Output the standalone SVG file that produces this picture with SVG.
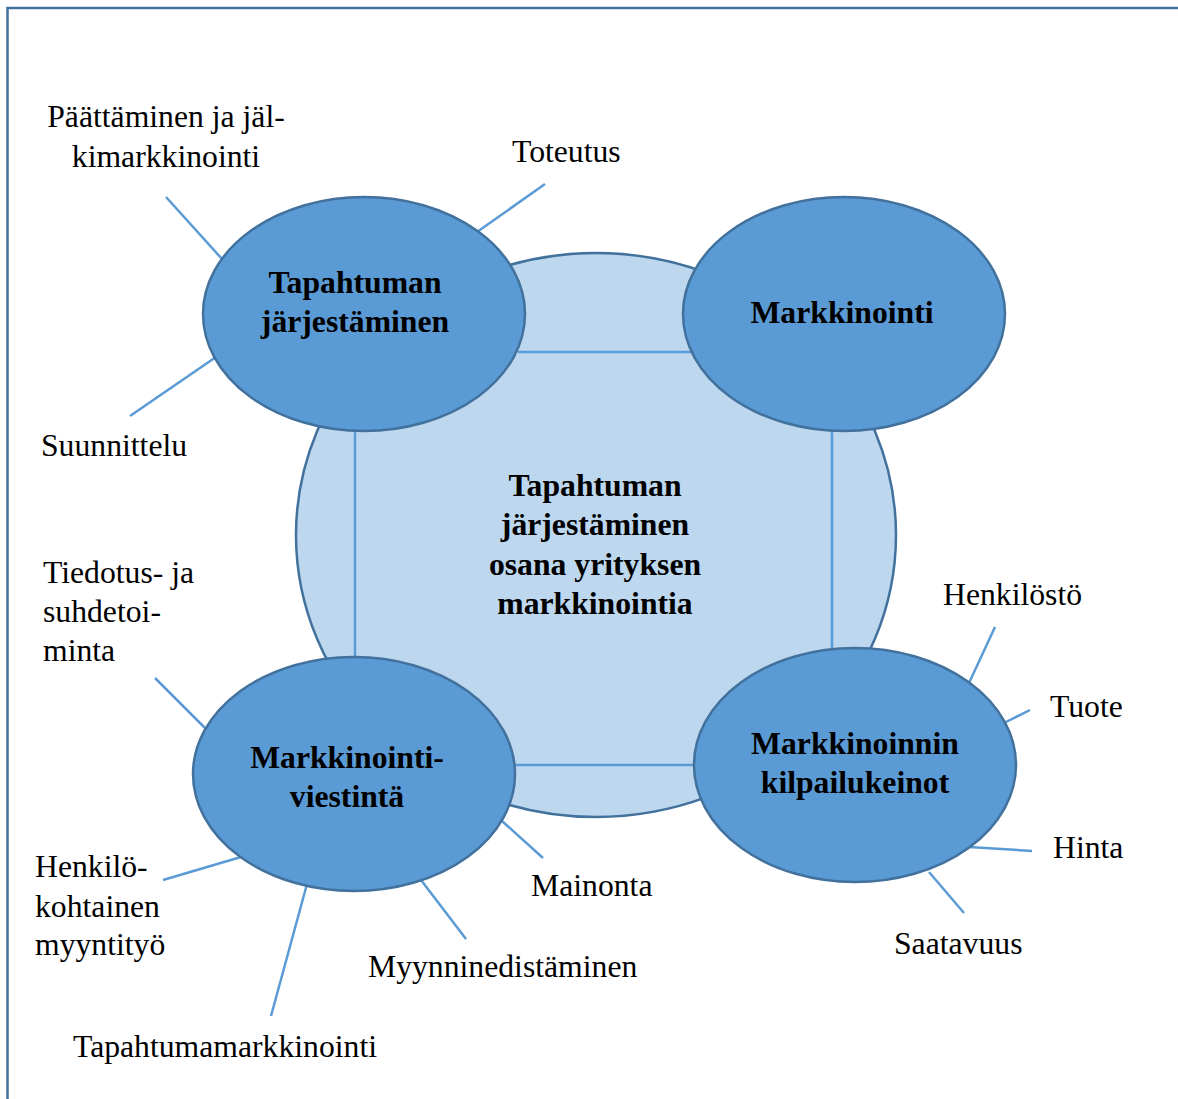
<svg xmlns="http://www.w3.org/2000/svg" width="1178" height="1099" viewBox="0 0 1178 1099">
  <style>
    .frame { fill: none; stroke: #41719c; stroke-width: 2.5; }
    .hub { fill: #bdd7ee; stroke: #41719c; stroke-width: 2.5; }
    .node { fill: #5b9bd5; stroke: #41719c; stroke-width: 2.5; }
    .link { stroke: #5b9bd5; stroke-width: 2.5; fill: none; }
    .bold { font-family: "Liberation Serif", "Times New Roman", serif; font-weight: bold; font-size: 31.7px; fill: #000; text-anchor: middle; }
    .lbl { font-family: "Liberation Serif", "Times New Roman", serif; font-size: 31.7px; fill: #000; }
  </style>

  <rect width="1178" height="1099" fill="#ffffff"/>
  <path class="frame" d="M7.5,1099 V8 H1178"/>

  <!-- central circle -->
  <g id="hub">
    <ellipse class="hub" cx="596" cy="535" rx="300" ry="282"/>
    <text class="bold" x="595" y="496">Tapahtuman</text>
    <text class="bold" x="595" y="535">järjestäminen</text>
    <text class="bold" x="595" y="575">osana yrityksen</text>
    <text class="bold" x="595" y="614">markkinointia</text>
  </g>

  <!-- connectors: square between the four themes and the spokes to sub-topics -->
  <g id="connectors">
    <line class="link" x1="518" y1="352" x2="692" y2="352"/>
    <line class="link" x1="355" y1="428" x2="355" y2="660"/>
    <line class="link" x1="832" y1="428" x2="832" y2="650"/>
    <line class="link" x1="512" y1="765" x2="696" y2="765"/>

    <line class="link" x1="166" y1="197" x2="222" y2="259"/>
    <line class="link" x1="545" y1="184" x2="477" y2="232"/>
    <line class="link" x1="130" y1="416" x2="216" y2="357"/>

    <line class="link" x1="155" y1="678" x2="207" y2="730"/>
    <line class="link" x1="163" y1="880" x2="241" y2="857"/>
    <line class="link" x1="271" y1="1016" x2="307" y2="884"/>
    <line class="link" x1="466" y1="939" x2="421" y2="880"/>
    <line class="link" x1="543" y1="858" x2="502" y2="821"/>

    <line class="link" x1="995" y1="627" x2="969" y2="683"/>
    <line class="link" x1="1030" y1="710" x2="1006" y2="722"/>
    <line class="link" x1="1032" y1="851" x2="969" y2="847"/>
    <line class="link" x1="964" y1="913" x2="929" y2="872"/>
  </g>

  <g id="node-jarjestaminen">
    <ellipse class="node" cx="364" cy="314" rx="161" ry="117"/>
    <text class="bold" x="355" y="293">Tapahtuman</text>
    <text class="bold" x="355" y="332">järjestäminen</text>
  </g>

  <g id="node-markkinointi">
    <ellipse class="node" cx="844" cy="314" rx="161" ry="117"/>
    <text class="bold" x="842" y="323">Markkinointi</text>
  </g>

  <g id="node-viestinta">
    <ellipse class="node" cx="354" cy="774" rx="161" ry="117"/>
    <text class="bold" x="347" y="768">Markkinointi-</text>
    <text class="bold" x="347" y="807">viestintä</text>
  </g>

  <g id="node-kilpailukeinot">
    <ellipse class="node" cx="855" cy="765" rx="161" ry="117"/>
    <text class="bold" x="855" y="754">Markkinoinnin</text>
    <text class="bold" x="855" y="793">kilpailukeinot</text>
  </g>

  <!-- sub-topic labels -->
  <g id="label-paattaminen">
    <text class="lbl" x="166" y="127" text-anchor="middle">Päättäminen ja jäl-</text>
    <text class="lbl" x="166" y="167" text-anchor="middle">kimarkkinointi</text>
  </g>
  <g id="label-toteutus"><text class="lbl" x="512" y="162">Toteutus</text></g>
  <g id="label-suunnittelu"><text class="lbl" x="41" y="456">Suunnittelu</text></g>
  <g id="label-tiedotus">
    <text class="lbl" x="43" y="583">Tiedotus- ja</text>
    <text class="lbl" x="43" y="622">suhdetoi-</text>
    <text class="lbl" x="43" y="661">minta</text>
  </g>
  <g id="label-henkilokohtainen">
    <text class="lbl" x="35" y="877">Henkilö-</text>
    <text class="lbl" x="35" y="917">kohtainen</text>
    <text class="lbl" x="35" y="955">myyntityö</text>
  </g>
  <g id="label-tapahtumamarkkinointi"><text class="lbl" x="73" y="1057">Tapahtumamarkkinointi</text></g>
  <g id="label-myynninedistaminen"><text class="lbl" x="368" y="977">Myynninedistäminen</text></g>
  <g id="label-mainonta"><text class="lbl" x="531" y="896">Mainonta</text></g>
  <g id="label-henkilosto"><text class="lbl" x="943" y="605">Henkilöstö</text></g>
  <g id="label-tuote"><text class="lbl" x="1050" y="717">Tuote</text></g>
  <g id="label-hinta"><text class="lbl" x="1053" y="858">Hinta</text></g>
  <g id="label-saatavuus"><text class="lbl" x="894" y="954">Saatavuus</text></g>
</svg>
